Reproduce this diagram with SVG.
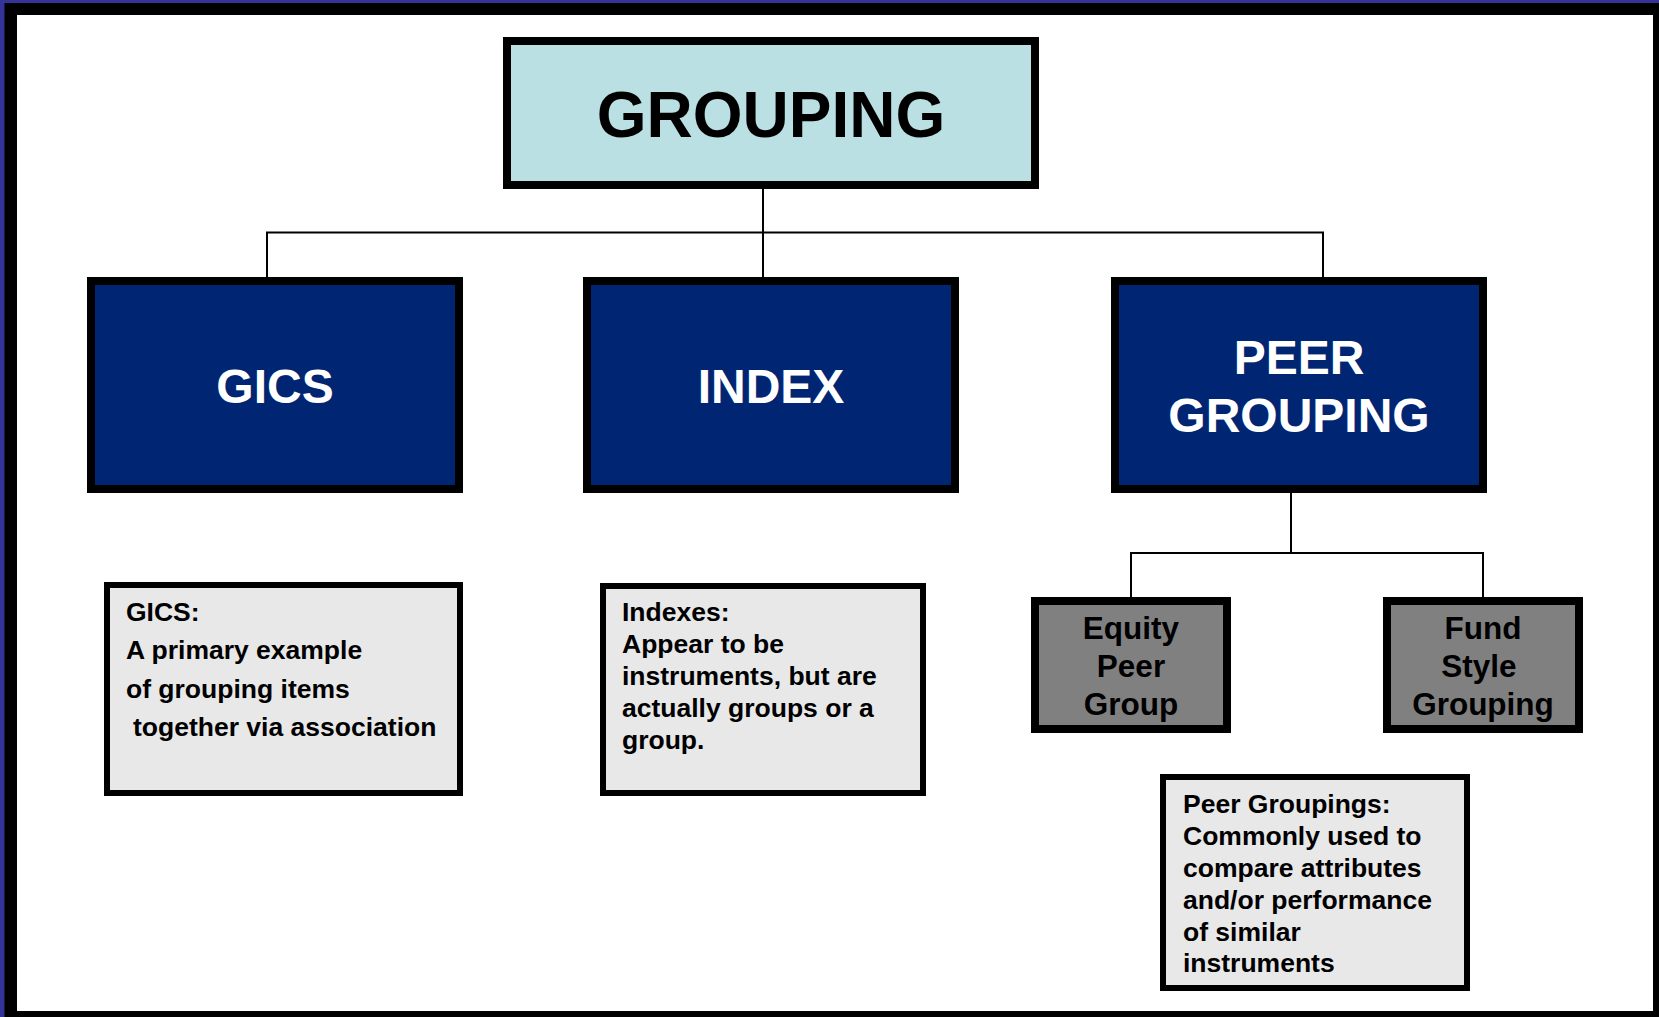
<svg xmlns="http://www.w3.org/2000/svg" width="1659" height="1017" viewBox="0 0 1659 1017">
<style>
.main{fill:#bae0e3;stroke:#000;stroke-width:8}
.cat{fill:#002673;stroke:#000;stroke-width:8}
.sub{fill:#808080;stroke:#000;stroke-width:8}
.note{fill:#e8e8e8;stroke:#000;stroke-width:6}
.conn{fill:none;stroke:#000;stroke-width:2}
text{font-family:"Liberation Sans",Arial,sans-serif;font-weight:bold}
.t-main{font-size:64px;fill:#000;text-anchor:middle}
.t-cat{font-size:48px;fill:#fff;text-anchor:middle}
.t-sub{font-size:31.5px;fill:#000;text-anchor:middle}
.t-note{font-size:26.5px;fill:#000}
</style>
<rect x="0" y="0" width="1659" height="1017" fill="#333399"/>
<rect x="4.5" y="3" width="1660" height="1020" fill="#000"/>
<rect x="17" y="15" width="1636" height="996" fill="#fff"/>
<g id="connectors">
<path class="conn" d="M763 189 V277 M267 277 V232.5 H1323 V277"/>
<path class="conn" d="M1291 493 V553 M1131 597 V553 H1483 V597"/>
</g>
<g id="grouping">
<rect class="main" x="507" y="41" width="528" height="144"/>
<text class="t-main" x="771" y="137">GROUPING</text>
</g>
<g id="gics">
<rect class="cat" x="91" y="281" width="368" height="208"/>
<text class="t-cat" x="275" y="403">GICS</text>
</g>
<g id="index">
<rect class="cat" x="587" y="281" width="368" height="208"/>
<text class="t-cat" x="771" y="403">INDEX</text>
</g>
<g id="peer-grouping">
<rect class="cat" x="1115" y="281" width="368" height="208"/>
<text class="t-cat" x="1299" y="374">PEER</text>
<text class="t-cat" x="1299" y="432">GROUPING</text>
</g>
<g id="equity-peer-group">
<rect class="sub" x="1035" y="601" width="192" height="128"/>
<text class="t-sub" x="1131" y="639">Equity</text>
<text class="t-sub" x="1131" y="677">Peer</text>
<text class="t-sub" x="1131" y="715">Group</text>
</g>
<g id="fund-style-grouping">
<rect class="sub" x="1387" y="601" width="192" height="128"/>
<text class="t-sub" x="1483" y="639">Fund</text>
<text class="t-sub" x="1479" y="677">Style</text>
<text class="t-sub" x="1483" y="715">Grouping</text>
</g>
<g id="gics-note">
<rect class="note" x="107" y="585" width="353" height="208"/>
<text class="t-note" x="126" y="621">GICS:</text>
<text class="t-note" x="126" y="659">A primary example</text>
<text class="t-note" x="126" y="698">of grouping items</text>
<text class="t-note" x="133" y="736">together via association</text>
</g>
<g id="index-note">
<rect class="note" x="603" y="586" width="320" height="207"/>
<text class="t-note" x="622" y="621">Indexes:</text>
<text class="t-note" x="622" y="653">Appear to be</text>
<text class="t-note" x="622" y="685">instruments, but are</text>
<text class="t-note" x="622" y="717">actually groups or a</text>
<text class="t-note" x="622" y="749">group.</text>
</g>
<g id="peer-note">
<rect class="note" x="1163" y="777" width="304" height="211"/>
<text class="t-note" x="1183" y="813">Peer Groupings:</text>
<text class="t-note" x="1183" y="845">Commonly used to</text>
<text class="t-note" x="1183" y="877">compare attributes</text>
<text class="t-note" x="1183" y="909">and/or performance</text>
<text class="t-note" x="1183" y="941">of similar</text>
<text class="t-note" x="1183" y="972">instruments</text>
</g>
</svg>
